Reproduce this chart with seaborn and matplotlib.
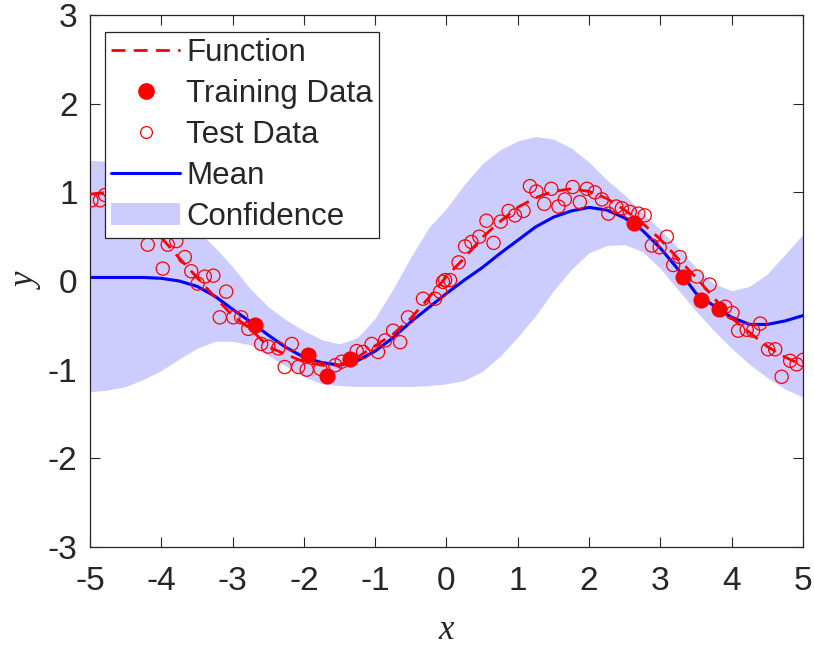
import matplotlib
matplotlib.use("Agg")
import matplotlib.pyplot as plt
import numpy as np
import pandas as pd
import seaborn as sns
from matplotlib.lines import Line2D
from matplotlib.patches import Patch

# griglia per le curve (passo 0.25)
grid_x = np.linspace(-5, 5, 41)

# funzione vera (tratteggiata)
func_y = [0.98, 1.00, 0.90, 0.72, 0.49, 0.26, 0.04, -0.18, -0.39, -0.54, -0.74,
          -0.83, -0.91, -0.95, -0.95, -0.86, -0.73, -0.60, -0.42, -0.19, 0.05,
          0.26, 0.49, 0.67, 0.83, 0.94, 1.01, 1.04, 1.01, 0.93, 0.80,
          0.65, 0.47, 0.25, 0.04, -0.19, -0.42, -0.58, -0.74, -0.86, -0.95]

# media del modello
mean_y = [0.04, 0.04, 0.04, 0.04, 0.03, 0.00, -0.06, -0.17, -0.32, -0.46, -0.61,
          -0.75, -0.86, -0.92, -0.95, -0.90, -0.79, -0.64, -0.46, -0.30, -0.14,
          0.01, 0.15, 0.31, 0.46, 0.61, 0.72, 0.79, 0.83, 0.80, 0.71,
          0.57, 0.37, 0.13, -0.14, -0.28, -0.41, -0.49, -0.49, -0.45, -0.39]

# banda di confidenza
upper_y = [1.36, 1.35, 1.30, 1.20, 1.04, 0.85, 0.58, 0.38, 0.16, -0.09, -0.29,
           -0.44, -0.56, -0.66, -0.71, -0.64, -0.42, -0.09, 0.27, 0.60, 0.82,
           1.09, 1.32, 1.48, 1.58, 1.63, 1.60, 1.50, 1.34, 1.14, 0.97,
           0.77, 0.58, 0.37, 0.15, -0.03, -0.11, -0.06, 0.08, 0.30, 0.53]
lower_y = [-1.25, -1.23, -1.19, -1.11, -1.01, -0.88, -0.76, -0.68, -0.68, -0.72, -0.84,
           -0.96, -1.08, -1.16, -1.18, -1.19, -1.19, -1.19, -1.19, -1.18, -1.16,
           -1.12, -1.02, -0.85, -0.63, -0.39, -0.11, 0.13, 0.32, 0.40, 0.41,
           0.33, 0.14, -0.10, -0.34, -0.56, -0.76, -0.94, -1.09, -1.22, -1.31]

# dati di training
train_x = [-2.69, -1.94, -1.68, -1.35, 2.63, 3.32, 3.57, 3.82]
train_y = [-0.50, -0.84, -1.07, -0.88, 0.65, 0.05, -0.21, -0.32]

# dati di test
test_x = [-4.98, -4.86, -4.79, -4.62, -4.45, -4.35, -4.19, -3.91, -3.79, -3.67,
          -3.98, -3.58, -3.39, -3.27, -3.49, -3.09, -3.18, -2.99, -2.88, -2.78,
          -2.60, -2.50, -2.36, -2.17, -2.27, -2.08, -1.96, -1.77, -1.56, -1.47,
          -1.26, -1.17, -1.05, -0.96, -0.86, -0.75, -0.65, -0.54, -0.33, -0.16,
          -0.05, -0.09, -0.02, 0.05, 0.17, 0.26, 0.35, 0.46, 0.66, 0.56,
          0.76, 0.87, 0.96, 1.08, 1.17, 1.26, 1.47, 1.37, 1.57, 1.66,
          1.77, 1.87, 1.97, 2.08, 2.18, 2.27, 2.38, 2.46, 2.57, 2.69,
          2.78, 2.88, 3.09, 2.99, 3.27, 3.18, 3.51, 3.69, 3.91, 4.01,
          4.09, 4.21, 4.30, 4.40, 4.51, 4.61, 4.82, 4.91, 5.00, 4.70]
test_y = [0.91, 0.91, 0.97, 0.98, 0.95, 0.90, 0.41, 0.41, 0.45, 0.27,
          0.14, 0.11, 0.05, 0.06, -0.03, -0.12, -0.41, -0.41, -0.41, -0.54,
          -0.71, -0.74, -0.76, -0.71, -0.97, -0.97, -1.00, -0.99, -0.95, -0.91,
          -0.79, -0.80, -0.71, -0.80, -0.67, -0.56, -0.69, -0.41, -0.20, -0.20,
          -0.01, -0.12, 0.01, 0.01, 0.21, 0.39, 0.44, 0.50, 0.43, 0.68,
          0.67, 0.79, 0.74, 0.79, 1.07, 1.01, 1.04, 0.87, 0.84, 0.92,
          1.06, 0.89, 1.04, 1.00, 0.92, 0.76, 0.84, 0.82, 0.78, 0.76,
          0.74, 0.40, 0.50, 0.38, 0.27, 0.18, 0.05, -0.04, -0.29, -0.36,
          -0.56, -0.55, -0.56, -0.48, -0.77, -0.77, -0.90, -0.94, -0.89, -1.08]

sns.set_style("ticks")
plt.rcParams['font.family'] = ['Liberation Sans', 'DejaVu Sans']
plt.rcParams['axes.unicode_minus'] = False

axis_col = '#262626'
band_col = '#ccccff'

fig = plt.figure(figsize=(8.14, 6.48), dpi=100)
ax = fig.add_axes([90 / 814, 101 / 648, 713 / 814, 532 / 648])

curves = pd.DataFrame({"x": grid_x, "f": func_y, "m": mean_y, "lo": lower_y, "hi": upper_y})

# banda di confidenza
ax.fill_between(curves["x"], curves["lo"], curves["hi"], color=band_col, linewidth=0, zorder=1)

# media
sns.lineplot(data=curves, x="x", y="m", ax=ax, color='#0000ff', linewidth=2.2, zorder=2)

# funzione
sns.lineplot(data=curves, x="x", y="f", ax=ax, color='red', linewidth=2,
             linestyle=(0, (5, 3)), zorder=3)

# test (cerchi vuoti)
sns.scatterplot(x=test_x, y=test_y, ax=ax, marker='o', s=90, facecolors='none',
                edgecolor='red', linewidth=0.9, zorder=4)

# training (cerchi pieni)
sns.scatterplot(x=train_x, y=train_y, ax=ax, marker='o', s=135, color='red',
                edgecolor='red', linewidth=0, zorder=5)

ax.set_xlim(-5, 5)
ax.set_ylim(-3, 3)
ax.set_xticks(range(-5, 6))
ax.set_yticks(range(-3, 4))

ax.tick_params(direction='in', length=7, width=0.8, top=True, right=True,
               labelsize=24, colors=axis_col)
ax.tick_params(axis='x', pad=14)
ax.tick_params(axis='y', pad=9)
for sp in ax.spines.values():
    sp.set_visible(True)
    sp.set_color(axis_col)
    sp.set_linewidth(0.9)

ax.set_xlabel("x", family='Liberation Serif', style='italic', fontsize=25,
              color=axis_col, labelpad=12)
ax.set_ylabel("y", family='Liberation Serif', style='italic', fontsize=25,
              color=axis_col, labelpad=3)

handles = [
    Line2D([], [], color='red', linewidth=2, linestyle=(0, (5, 3))),
    Line2D([], [], color='red', marker='o', linestyle='none', markersize=11),
    Line2D([], [], color='red', marker='o', markerfacecolor='none', linestyle='none',
           markersize=8.5, markeredgewidth=0.9),
    Line2D([], [], color='#0000ff', linewidth=2.2),
    Patch(facecolor=band_col, edgecolor='none'),
]
labels = ["Function", "Training Data", "Test Data", "Mean", "Confidence"]
leg = ax.legend(handles, labels, loc='upper left', bbox_to_anchor=(0.021, 0.968),
                fontsize=22.5, frameon=True, fancybox=False, framealpha=1,
                edgecolor=axis_col, handlelength=2.2, handletextpad=0.2,
                labelspacing=0.35, borderpad=0.2, borderaxespad=0)
leg.get_frame().set_linewidth(0.9)
leg.set_zorder(10)

fig.savefig("out.png", dpi=100)
